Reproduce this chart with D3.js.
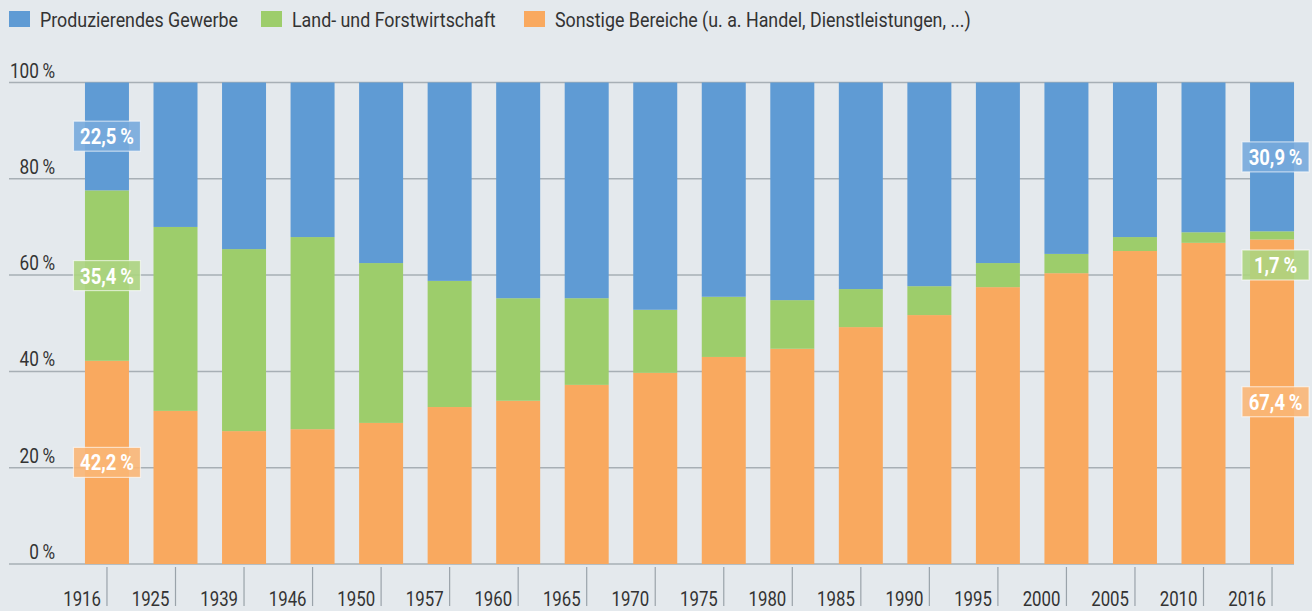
<!DOCTYPE html>
<html>
<head>
<meta charset="utf-8">
<script src="https://cdn.jsdelivr.net/npm/d3@7"></script>
<style>
  body { margin: 0; background: #e4e9ed; }
  svg { display: block; font-family: "Roboto", "Liberation Sans", sans-serif; }
</style>
</head>
<body>
<div id="chart"></div>
<script>
var years = ["1916", "1925", "1939", "1946", "1950", "1957", "1960", "1965", "1970",
  "1975", "1980", "1985", "1990", "1995", "2000", "2005", "2010", "2016"];
var sonstige = [42.2, 31.8, 27.6, 28.0, 29.3, 32.6, 33.9, 37.2, 39.7,
  43.0, 44.7, 49.2, 51.7, 57.5, 60.4, 65.0, 66.7, 67.4];
var landForst = [35.4, 38.2, 37.8, 39.9, 33.2, 26.2, 21.3, 18.0, 13.1,
  12.5, 10.1, 7.9, 6.0, 5.0, 4.0, 2.9, 2.2, 1.7];
var produzierend = [22.5, 30.0, 34.6, 32.1, 37.5, 41.2, 44.8, 44.8, 47.2,
  44.5, 45.2, 42.9, 42.3, 37.5, 35.6, 32.1, 31.1, 30.9];
var yTicks = [0, 20, 40, 60, 80, 100];

var seriesKeys = ["sonstige", "land", "prod"];
var seriesNames = {
  prod: "Produzierendes Gewerbe",
  land: "Land- und Forstwirtschaft",
  sonstige: "Sonstige Bereiche (u. a. Handel, Dienstleistungen, ...)"
};
var colors = { prod: "#5f9bd4", land: "#9dcd6b", sonstige: "#f9a95f" };
var labelFill = { prod: "#77aadb", land: "#acd47f", sonstige: "#fab676" };

var svgWidth = 1312, svgHeight = 611;

var svg = d3.select("#chart").append("svg")
  .attr("width", svgWidth)
  .attr("height", svgHeight);

// fake condensed type: place text at (x, y) and squeeze horizontally
function condensed(sel, fx, fy, sx) {
  sel.attr("transform", function(d, i) {
    return "translate(" + fx(d, i) + "," + fy(d, i) + ") scale(" + sx + ",1)";
  });
}

var table = years.map(function(y, i) {
  return { year: y, sonstige: sonstige[i], land: landForst[i], prod: produzierend[i] };
});

var xScale = d3.scaleBand()
  .domain(years)
  .range([72.7, 1306.3])
  .paddingInner(0.358)
  .paddingOuter(0.179);

var yScale = d3.scaleLinear().domain([0, 100]).range([564, 82.5]);

// grid
svg.append("g").selectAll("line")
  .data(yTicks)
  .join("line")
  .attr("x1", 9).attr("x2", 1294)
  .attr("y1", d => yScale(d)).attr("y2", d => yScale(d))
  .attr("stroke", "#a7afb5")
  .attr("stroke-width", 1.5);

svg.append("g").selectAll("text")
  .data(yTicks)
  .join("text")
  .attr("text-anchor", "end")
  .attr("font-size", 20)
  .attr("fill", "#333")
  .text(d => d + "\u2009%")
  .call(condensed, () => 55, d => yScale(d) - 5, 0.86);

// stacked bars
var stack = d3.stack().keys(seriesKeys);
var layers = stack(table);

svg.append("g").selectAll("g")
  .data(layers)
  .join("g")
  .attr("fill", d => colors[d.key])
  .selectAll("rect")
  .data(d => d)
  .join("rect")
  .attr("x", d => xScale(d.data.year))
  .attr("width", xScale.bandwidth())
  .attr("y", d => yScale(Math.min(d[1], 100)))
  .attr("height", d => yScale(d[0]) - yScale(Math.min(d[1], 100)));

// x ticks
var tickG = svg.append("g").selectAll("g")
  .data(years)
  .join("g")
  .attr("transform", d => "translate(" + (xScale(d) + xScale.bandwidth() / 2) + ",0)");
tickG.append("line")
  .attr("y1", 567).attr("y2", 606)
  .attr("stroke", "#9aa3aa")
  .attr("stroke-width", 1.2);
tickG.append("text")
  .attr("text-anchor", "end")
  .attr("font-size", 20.5)
  .attr("fill", "#333")
  .text(d => d)
  .call(condensed, () => -6, () => 606, 0.82);

// value labels for first and last year
var fmt = function(v) { return String(v.toFixed(1)).replace(".", ",") + "\u2009%"; };
var labels = [];
[0, years.length - 1].forEach(function(i) {
  layers.forEach(function(layer) {
    var seg = layer[i];
    var cy = yScale((seg[0] + seg[1]) / 2);
    if (layer.key === "land" && i === years.length - 1) cy = 265;
    labels.push({ key: layer.key, year: years[i], value: seg[1] - seg[0], cy: cy,
      dx: i === 0 ? 0 : 3.5 });
  });
});

var lab = svg.append("g").selectAll("g")
  .data(labels)
  .join("g")
  .attr("transform", d => "translate(" + (xScale(d.year) + xScale.bandwidth() / 2 + d.dx) + "," + d.cy + ")");
lab.append("rect")
  .attr("x", -33.5).attr("y", -15)
  .attr("width", 67).attr("height", 30)
  .attr("fill", d => labelFill[d.key])
  .attr("fill-opacity", 0.9)
  .attr("stroke", "#ffffff")
  .attr("stroke-opacity", 0.6)
  .attr("stroke-width", 1.2);
lab.append("text")
  .attr("text-anchor", "middle")
  .attr("font-size", 22)
  .attr("font-weight", "bold")
  .attr("fill", "#fff")
  .text(d => fmt(d.value))
  .call(condensed, () => 0, () => 8, 0.84);

// legend
var legendItems = [
  { key: "prod", x: 9 },
  { key: "land", x: 261 },
  { key: "sonstige", x: 524 }
];
var leg = svg.append("g").selectAll("g")
  .data(legendItems)
  .join("g")
  .attr("transform", d => "translate(" + d.x + ",0)");
leg.append("rect")
  .attr("y", 11).attr("width", 21).attr("height", 16)
  .attr("fill", d => colors[d.key]);
leg.append("text")
  .attr("font-size", 20.5)
  .attr("fill", "#333")
  .text(d => seriesNames[d.key])
  .call(condensed, () => 31, () => 27, 0.87);
</script>
</body>
</html>
